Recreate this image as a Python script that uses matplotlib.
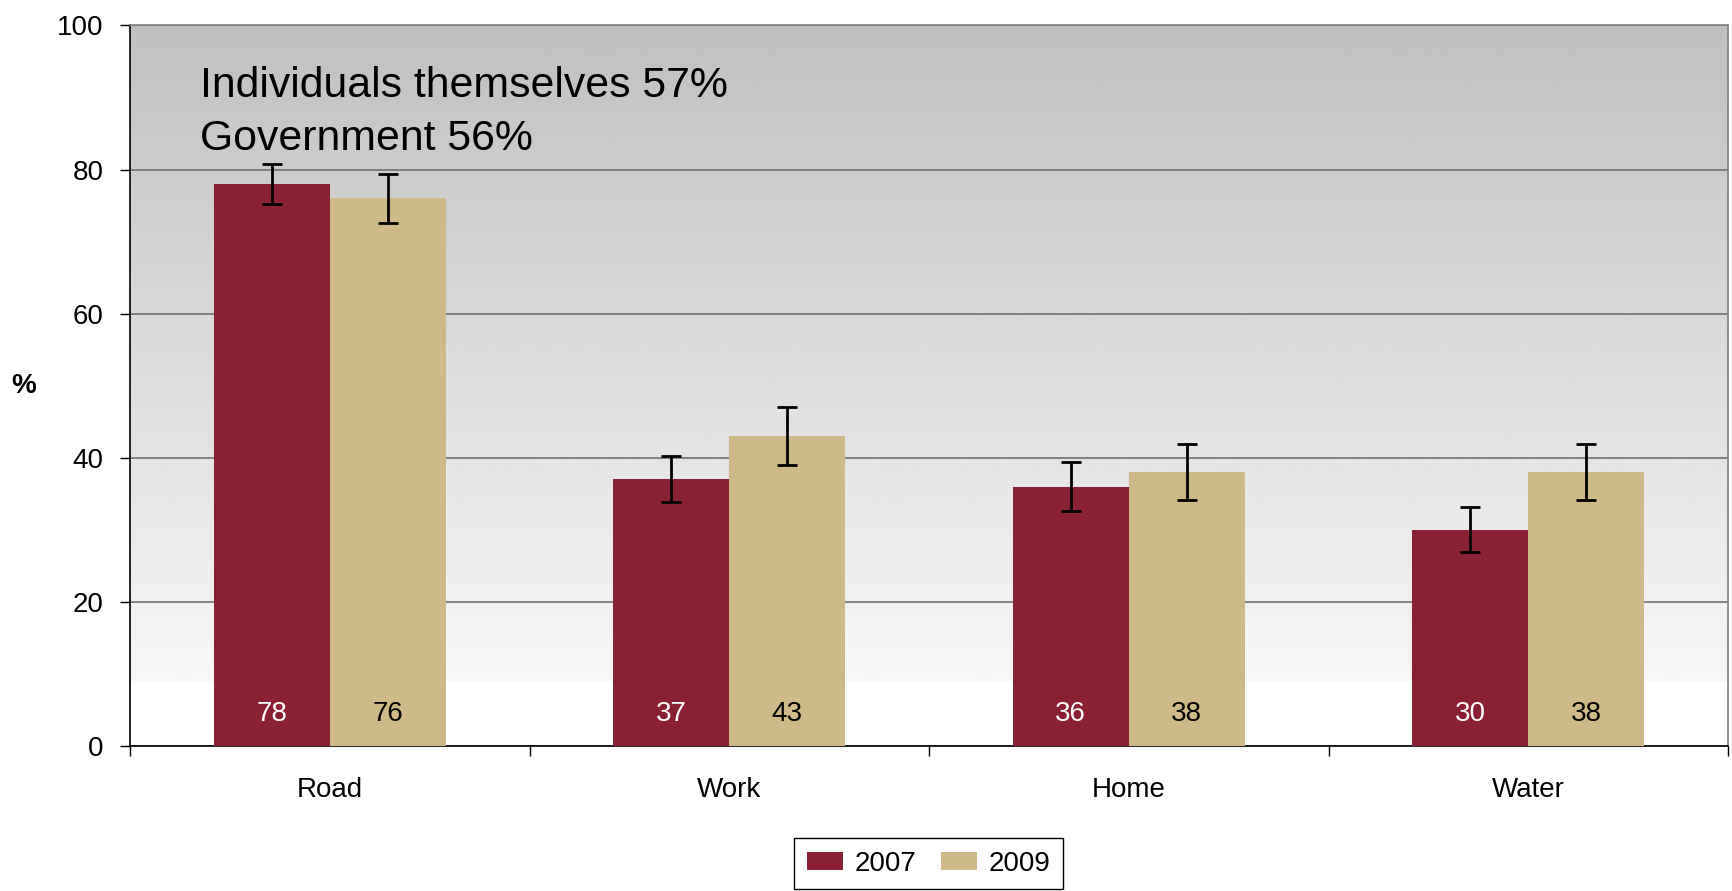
import numpy as np
import matplotlib
matplotlib.use("Agg")
import matplotlib.pyplot as plt

plt.rcParams['font.family'] = ['Liberation Sans', 'DejaVu Sans']

# data
categories = ['Road', 'Work', 'Home', 'Water']
years = ['2007', '2009']
vals_2007 = [78, 37, 36, 30]
vals_2009 = [76, 43, 38, 38]
err_2007 = [2.8, 3.2, 3.4, 3.1]
err_2009 = [3.4, 4.0, 3.9, 3.9]
note_lines = ['Individuals themselves 57%', 'Government 56%']

red = '#8A2033'
tan = '#CEBA88'

fig = plt.figure(figsize=(17.33, 8.91), dpi=100)
ax = fig.add_axes([130 / 1733, 1 - 746 / 891, 1598 / 1733, 720.6 / 891])

# grey-to-white background gradient
lev = np.linspace(0, 100, 400)
shade = np.where(lev < 9, 1.0, 0.968 - (lev - 9) / 91 * (0.968 - 0.753))
grad = np.repeat(shade[::-1, None], 2, axis=1)
ax.imshow(grad, cmap='gray', vmin=0, vmax=1, aspect='auto',
          extent=[-0.5, 3.5, 0, 100], zorder=0, interpolation='bilinear')

x = np.arange(len(categories))
w = 0.29
ekw = dict(elinewidth=2, capthick=2, ecolor='black')
b1 = ax.bar(x - w / 2, vals_2007, w, color=red, yerr=err_2007, capsize=7,
            error_kw=ekw, zorder=3, label=years[0])
b2 = ax.bar(x + w / 2, vals_2009, w, color=tan, yerr=err_2009, capsize=7,
            error_kw=ekw, zorder=3, label=years[1])

for i in range(len(categories)):
    ax.text(x[i] - w / 2, 4.5, str(vals_2007[i]), color='white', fontsize=20,
            ha='center', va='center', zorder=4)
    ax.text(x[i] + w / 2, 4.5, str(vals_2009[i]), color='black', fontsize=20,
            ha='center', va='center', zorder=4)

ax.text(0.0438, 0.9006, note_lines[0], transform=ax.transAxes, fontsize=30.8,
        va='baseline', ha='left', zorder=5)
ax.text(0.0438, 0.827, note_lines[1], transform=ax.transAxes, fontsize=30.8,
        va='baseline', ha='left', zorder=5)

ax.set_xlim(-0.5, 3.5)
ax.set_ylim(0, 100)
ax.set_yticks([0, 20, 40, 60, 80, 100])
ax.yaxis.grid(True, color='#707070', linewidth=1.2, zorder=1)
ax.set_axisbelow(True)

ax.set_xticks(x)
ax.set_xticklabels(categories, fontsize=20)
ax.set_xticks(np.arange(-0.5, 4, 1), minor=True)
ax.tick_params(axis='x', which='major', length=0, pad=22)
ax.tick_params(axis='x', which='minor', length=7.2, width=1, direction='out')
ax.tick_params(axis='y', labelsize=20, length=7.2, width=1, pad=12)

ax.spines['left'].set_color('black')
ax.spines['bottom'].set_color('black')
ax.spines['top'].set_color('#808080')
ax.spines['right'].set_color('#808080')
for s in ax.spines.values():
    s.set_linewidth(1.2)

ax.set_ylabel('%', rotation=0, fontsize=20, fontweight='bold', ha='center', va='center')
ax.yaxis.set_label_coords(-0.0663, 0.5)

leg = fig.legend(handles=[b1, b2], labels=years, loc='lower center',
                 bbox_to_anchor=(928.5 / 1733, 0.002), ncols=2, fontsize=20,
                 handlelength=1.3, handleheight=0.6, handletextpad=0.4,
                 columnspacing=0.9, borderpad=0.45, fancybox=False,
                 edgecolor='black', framealpha=1, borderaxespad=0)
leg.get_frame().set_linewidth(1)

fig.savefig('out.png', dpi=100)
